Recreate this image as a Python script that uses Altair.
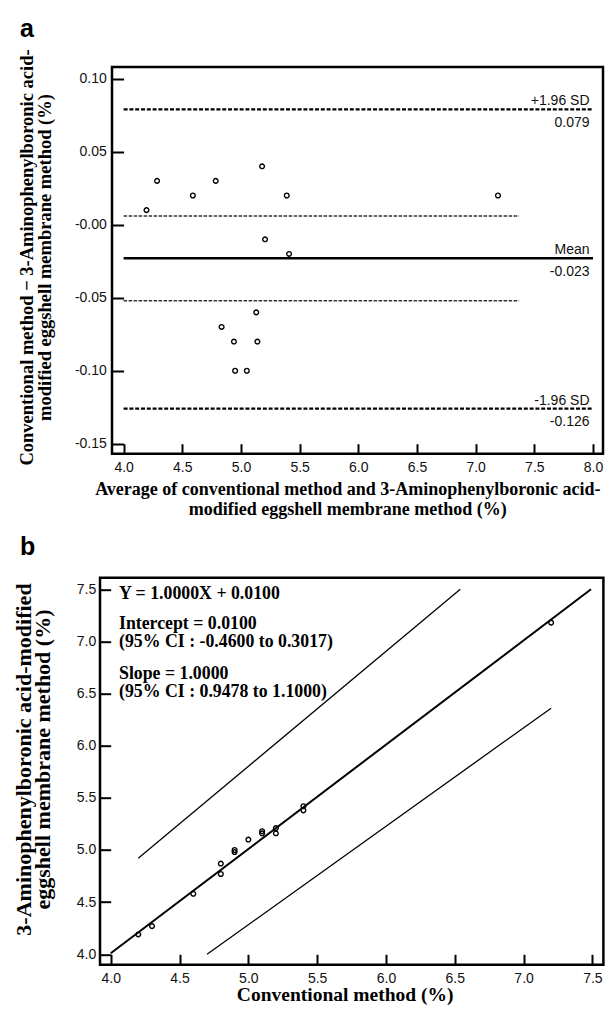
import altair as alt
import pandas as pd

# ---------------- Panel a : Bland-Altman ----------------
ba_avg = [4.195, 4.285, 4.59, 4.785, 4.835, 4.94, 4.95, 5.05, 5.13, 5.14, 5.18, 5.205, 5.39, 5.41, 7.19]
ba_diff = [0.01, 0.03, 0.02, 0.03, -0.07, -0.08, -0.10, -0.10, -0.06, -0.08, 0.04, -0.01, 0.02, -0.02, 0.02]

sd_y = [0.079, -0.126]
sd_x0 = [4.0, 4.0]
sd_x1 = [8.0, 8.0]
mean_y = [-0.023]
mean_x0 = [4.0]
mean_x1 = [8.0]
ci_y = [0.006, -0.052]
ci_x0 = [4.0, 4.0]
ci_x1 = [7.37, 7.37]

lab_y = [0.079, -0.023, -0.126]
lab_top = ["+1.96 SD", "Mean", "-1.96 SD"]
lab_bottom = ["0.079", "-0.023", "-0.126"]
lab_x = [7.97, 7.97, 7.97]

a_xticks = [4.0, 4.5, 5.0, 5.5, 6.0, 6.5, 7.0, 7.5, 8.0]
a_yticks = [-0.15, -0.10, -0.05, 0.0, 0.05, 0.10]
a_xtitle = ["Average of conventional method and 3-Aminophenylboronic acid-",
            "modified eggshell membrane method (%)"]
a_ytitle = ["Conventional method \u2212 3-Aminophenylboronic acid-",
            "modified eggshell membrane method (%)"]

# ---------------- Panel b : regression ----------------
conv = [4.2, 4.3, 4.6, 4.8, 4.8, 4.9, 4.9, 5.0, 5.1, 5.1, 5.2, 5.2, 5.4, 5.4, 7.2]
meth = [4.19, 4.27, 4.58, 4.77, 4.87, 4.98, 5.0, 5.10, 5.16, 5.18, 5.16, 5.21, 5.38, 5.42, 7.18]

fit_x = [4.0, 7.49]
fit_y = [4.01, 7.5]
ci_line_id = ["upper", "upper", "lower", "lower"]
ci_line_x = [4.2, 6.54, 4.70, 7.2]
ci_line_y = [4.92, 7.5, 4.0, 6.36]

ann_text = ["Y = 1.0000X + 0.0100", "Intercept = 0.0100", "(95% CI : -0.4600 to 0.3017)",
            "Slope = 1.0000", "(95% CI : 0.9478 to 1.1000)"]
ann_y = [7.45, 7.17, 6.99, 6.69, 6.515]
ann_x = [4.06, 4.06, 4.06, 4.06, 4.06]

b_xticks = [4.0, 4.5, 5.0, 5.5, 6.0, 6.5, 7.0, 7.5]
b_yticks = [4.0, 4.5, 5.0, 5.5, 6.0, 6.5, 7.0, 7.5]
b_xtitle = "Conventional method (%)"
b_ytitle = ["3-Aminophenylboronic acid-modified", "eggshell membrane method (%)"]

panel_letters = ["a", "b"]

SANS = "Liberation Sans"
SERIF = "Liberation Serif"

common_axis = dict(domain=False, grid=False, ticks=True, tickColor="black", tickWidth=2,
                   labelFont=SANS, labelFontSize=14, labelColor="#111",
                   titleFont=SERIF, titleFontWeight="bold", titleColor="black",
                   labelFlush=False, labelOverlap=False, titleAlign="center",
                   titleBaseline="middle")

# ---------- panel a ----------
WA, HA = 491, 386.7
xa_scale = alt.Scale(domain=[3.901, 8.085], nice=False, zero=False)
ya_scale = alt.Scale(domain=[-0.1568, 0.108], nice=False, zero=False)
xa_axis = alt.Axis(values=a_xticks, format=".1f", offset=-10, tickSize=10, labelPadding=6.6,
                   title=a_xtitle, titleX=235.3, titleY=45.3, titleAngle=0,
                   titleLineHeight=20, titleFontSize=18, **common_axis)
ya_axis = alt.Axis(values=a_yticks, offset=-11.6, tickSize=11.6, labelPadding=5.7,
                   labelExpr="datum.value < -0.001 ? '-' + format(-datum.value, '.2f') : (datum.value < 0.001 ? '-0.00' : format(datum.value, '.2f'))",
                   title=a_ytitle, titleX=-96.8, titleY=190, titleAngle=270,
                   titleLineHeight=18, titleFontSize=18.5, **common_axis)
XA = alt.X("x:Q", scale=xa_scale, axis=xa_axis)
YA = alt.Y("y:Q", scale=ya_scale, axis=ya_axis)

df_a_pts = pd.DataFrame({"x": ba_avg, "y": ba_diff})
df_sd = pd.DataFrame({"x": sd_x0, "x2": sd_x1, "y": sd_y})
df_mean = pd.DataFrame({"x": mean_x0, "x2": mean_x1, "y": mean_y})
df_ci = pd.DataFrame({"x": ci_x0, "x2": ci_x1, "y": ci_y})
df_lab = pd.DataFrame({"x": lab_x, "y": lab_y, "top": lab_top, "bottom": lab_bottom})

a_pts = alt.Chart(df_a_pts).mark_point(shape="circle", filled=False, size=22, strokeWidth=1.4,
                                        color="black", opacity=1).encode(x=XA, y=YA)
a_sd = alt.Chart(df_sd).mark_rule(strokeDash=[4, 1.8], strokeWidth=2.2, color="black").encode(
    x=XA, x2=alt.X2("x2"), y=YA)
a_mean = alt.Chart(df_mean).mark_rule(strokeWidth=2.5, color="black").encode(
    x=XA, x2=alt.X2("x2"), y=YA)
a_ci = alt.Chart(df_ci).mark_rule(strokeDash=[3.5, 1.5], strokeWidth=1.5, color="#333").encode(
    x=XA, x2=alt.X2("x2"), y=YA)
a_lab_top = alt.Chart(df_lab).mark_text(align="right", baseline="alphabetic", dy=-4, font=SANS,
                                        fontSize=14, color="#111").encode(x=XA, y=YA, text="top:N")
a_lab_bot = alt.Chart(df_lab).mark_text(align="right", baseline="alphabetic", dy=17.5, font=SANS,
                                        fontSize=14, color="#111").encode(x=XA, y=YA, text="bottom:N")
a_letter = alt.Chart(pd.DataFrame({"t": [panel_letters[0]]})).mark_text(
    align="left", baseline="alphabetic", font=SANS, fontWeight="bold", fontSize=25, color="black"
).encode(x=alt.value(-92.1), y=alt.value(-30), text="t:N")
anchor = alt.Chart(pd.DataFrame({"t": [0]})).mark_rule(opacity=0, strokeWidth=0).encode(
    x=alt.value(-110.7), x2=alt.value(-110.7), y=alt.value(-65), y2=alt.value(-65))

chart_a = alt.layer(a_ci, a_sd, a_mean, a_pts, a_lab_top, a_lab_bot, a_letter, anchor).properties(
    width=WA, height=HA)

# ---------- panel b ----------
WB, HB = 503.4, 387
xb_scale = alt.Scale(domain=[3.922, 7.58], nice=False, zero=False)
yb_scale = alt.Scale(domain=[3.90, 7.611], nice=False, zero=False)
xb_axis = alt.Axis(values=b_xticks, format=".1f", offset=-10.4, tickSize=10.4, labelPadding=6.5,
                   title=b_xtitle, titleX=244.7, titleY=40.5, titleAngle=0,
                   titleFontSize=19.5, **common_axis)
yb_axis = alt.Axis(values=b_yticks, format=".1f", offset=-10.7, tickSize=10.7, labelPadding=4.3,
                   title=b_ytitle, titleX=-87.5, titleY=181.3, titleAngle=270,
                   titleLineHeight=19, titleFontSize=22, **common_axis)
XB = alt.X("x:Q", scale=xb_scale, axis=xb_axis)
YB = alt.Y("y:Q", scale=yb_scale, axis=yb_axis)

df_b_pts = pd.DataFrame({"x": conv, "y": meth})
df_fit = pd.DataFrame({"x": fit_x, "y": fit_y})
df_cil = pd.DataFrame({"x": ci_line_x, "y": ci_line_y, "g": ci_line_id})
df_ann = pd.DataFrame({"x": ann_x, "y": ann_y, "t": ann_text})

b_fit = alt.Chart(df_fit).mark_line(strokeWidth=2, color="black").encode(x=XB, y=YB)
b_cil = alt.Chart(df_cil).mark_line(strokeWidth=1.3, color="black").encode(x=XB, y=YB, detail="g:N")
b_pts = alt.Chart(df_b_pts).mark_point(shape="circle", filled=False, size=22, strokeWidth=1.4,
                                        color="black", opacity=1).encode(x=XB, y=YB)
b_ann = alt.Chart(df_ann).mark_text(align="left", baseline="middle", font=SERIF, fontWeight="bold",
                                     fontSize=17.8, color="black").encode(x=XB, y=YB, text="t:N")
b_letter = alt.Chart(pd.DataFrame({"t": [panel_letters[1]]})).mark_text(
    align="left", baseline="alphabetic", font=SANS, fontWeight="bold", fontSize=25, color="black"
).encode(x=alt.value(-79.9), y=alt.value(-22.7), text="t:N")

chart_b = alt.layer(b_fit, b_cil, b_pts, b_ann, b_letter).properties(width=WB, height=HB)

spacer = alt.Chart(pd.DataFrame({"t": [0]})).mark_rule(opacity=0).encode(
    x=alt.value(0), y=alt.value(0), y2=alt.value(1)
).properties(width=11.4, height=10, view=alt.ViewBackground(stroke="transparent"))

# the nested row has a flush height of 0, so the spacing spans panel a's height plus the gap
chart = alt.vconcat(
    alt.hconcat(spacer, chart_a, spacing=0, bounds="flush"),
    chart_b,
    spacing=HA + 124, bounds="flush"
).properties(padding=0, background="white").configure_view(stroke="black", strokeWidth=2.5)

chart.save("out.html", embed_options={"renderer": "svg", "actions": False})
